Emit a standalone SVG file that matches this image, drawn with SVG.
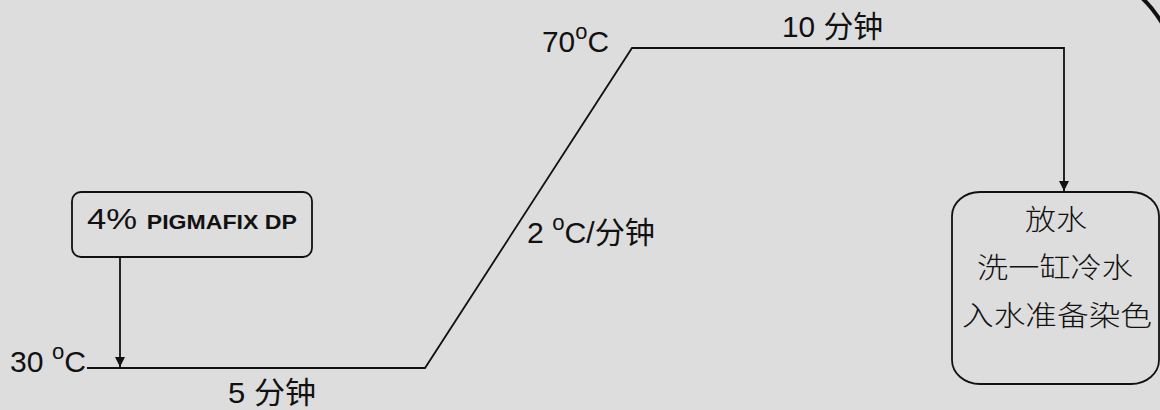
<svg xmlns="http://www.w3.org/2000/svg" width="1160" height="410" viewBox="0 0 1160 410">
<defs>
<style>
.t{font-family:"Liberation Sans","Noto Sans CJK SC",Arial,sans-serif;font-size:30px;fill:#111;}
.c{font-family:"Noto Sans CJK SC","Liberation Sans",sans-serif;font-size:28px;fill:#111;font-weight:300;}
.sup{font-size:22px;}
.b{font-weight:bold;font-size:20px;}
.ln{stroke:#111;stroke-width:1.8;fill:none;}
.box{stroke:#111;stroke-width:1.8;fill:none;}
</style>
<marker id="ah" viewBox="0 0 10 12" refX="10" refY="6" markerWidth="11" markerHeight="12" markerUnits="userSpaceOnUse" orient="auto">
<path d="M0,1 L10,6 L0,11 z" fill="#111"/>
</marker>
</defs>
<rect x="0" y="0" width="1160" height="410" fill="#dddddd"/>
<g id="connectors">
<path class="ln" d="M87,368 L425,368 L632,48 L1064,48 L1064,191" marker-end="url(#ah)"/>
<path class="ln" d="M120,257 L120,367" marker-end="url(#ah)"/>
<path d="M1142,-2 Q1153,8 1164,26" stroke="#111" stroke-width="4" fill="none"/>
</g>
<g id="node-additive">
<rect class="box" x="72" y="192" width="240" height="65" rx="9"/>
<text class="t" x="87" y="229" textLength="210" lengthAdjust="spacingAndGlyphs">4% <tspan class="b">PIGMAFIX DP</tspan></text>
</g>
<g id="node-drain">
<rect class="box" x="952" y="192" width="207" height="192" rx="28" ry="24"/>
<text class="c" x="1025" y="230" textLength="62" lengthAdjust="spacingAndGlyphs">放水</text>
<text class="c" x="977" y="278" textLength="156" lengthAdjust="spacingAndGlyphs">洗一缸冷水</text>
<text class="c" x="962" y="326" textLength="190" lengthAdjust="spacingAndGlyphs">入水准备染色</text>
</g>
<g id="labels">
<text class="t" x="10" y="372" textLength="76" lengthAdjust="spacingAndGlyphs">30 <tspan class="sup" dy="-13">o</tspan><tspan dy="13">C</tspan></text>
<text class="t" x="228" y="403" textLength="88" lengthAdjust="spacingAndGlyphs">5 分钟</text>
<text class="t" x="542" y="52" textLength="67" lengthAdjust="spacingAndGlyphs">70<tspan class="sup" dy="-13">o</tspan><tspan dy="13">C</tspan></text>
<text class="t" x="782" y="37" textLength="101" lengthAdjust="spacingAndGlyphs">10 分钟</text>
<text class="t" x="527" y="243" textLength="128" lengthAdjust="spacingAndGlyphs">2 <tspan class="sup" dy="-13">o</tspan><tspan dy="13">C/分钟</tspan></text>
</g>
</svg>
